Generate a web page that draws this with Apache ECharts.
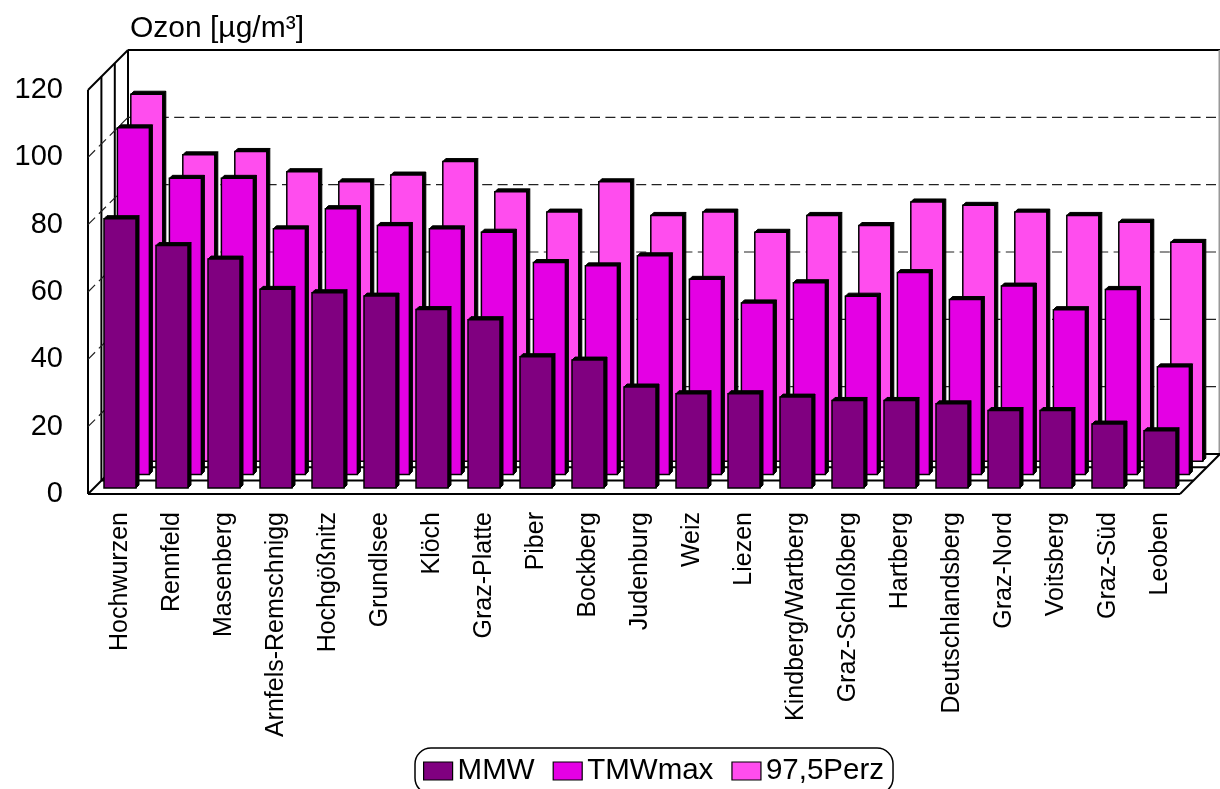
<!DOCTYPE html>
<html><head><meta charset="utf-8">
<style>html,body{margin:0;padding:0;background:#fff}#c{width:1220px;height:789px}</style>
<script src="https://cdn.jsdelivr.net/npm/echarts@6/dist/echarts.min.js"></script>
</head><body><div id="c"></div>
<script>
const categories = ["Hochwurzen","Rennfeld","Masenberg","Arnfels-Remschnigg","Hochgößnitz","Grundlsee","Klöch","Graz-Platte","Piber","Bockberg","Judenburg","Weiz","Liezen","Kindberg/Wartberg","Graz-Schloßberg","Hartberg","Deutschlandsberg","Graz-Nord","Voitsberg","Graz-Süd","Leoben"];
const mmw    = [80,72,68,59,58,57,53,50,39,38,30,28,28,27,26,26,25,23,23,19,17];
const tmwmax = [103,88,88,73,79,74,73,72,63,62,65,58,51,57,53,60,52,56,49,55,32];
const perz   = [109,91,92,86,83,85,89,80,74,83,73,74,68,73,70,77,76,74,73,71,65];
const yTicks = [0,20,40,60,80,100,120];

const DEPTH = 40, ROW = 13.4, FRONT = 6, BAR_DEPTH = 3, BAR_W = 32;
const line = (x1,y1,x2,y2,extra={}) => ({type:'line',shape:{x1,y1,x2,y2},style:Object.assign({stroke:'#000',lineWidth:2,fill:null},extra)});

function frameItem(p, api){
  const [x0,y0] = api.coord([0,0]);
  const gx = p.coordSys.x - 6, rx = p.coordSys.x + p.coordSys.width - 6;
  const ty = api.coord([0,120])[1];
  const ch = [];
  ch.push(line(gx+DEPTH,ty-DEPTH,rx+DEPTH,ty-DEPTH));
  ch.push(line(gx+DEPTH,ty-DEPTH,gx+DEPTH,y0-DEPTH));
  ch.push(line(rx+DEPTH-0.5,ty-DEPTH,rx+DEPTH-0.5,y0-DEPTH,{stroke:'#999'}));
  ch.push(line(gx,ty,gx+DEPTH,ty-DEPTH));
  ch.push(line(gx,ty,gx,y0));
  [1,2].forEach(k=>{
    const d=ROW*k;
    ch.push(line(gx+d,ty-d,gx+d,y0-d));
    ch.push(line(gx+d,y0-d,rx+d,y0-d));
  });
  ch.push(line(gx+DEPTH,y0-DEPTH,rx+DEPTH,y0-DEPTH));
  ch.push(line(gx,y0,rx,y0));
  ch.push(line(gx,y0,gx+DEPTH,y0-DEPTH));
  ch.push(line(rx,y0,rx+DEPTH,y0-DEPTH));
  return {type:'group',children:ch};
}
function gridItem(p, api){
  const v = api.value(0);
  if (v===0||v===120) return {type:'group',children:[]};
  const y = api.coord([0,v])[1];
  const gx = p.coordSys.x - 6, rx = p.coordSys.x + p.coordSys.width - 6;
  const st = {lineDash:[10,5.4],lineWidth:1.2,stroke:'#222'};
  return {type:'group',children:[
    line(gx,y,gx+DEPTH,y-DEPTH,st),
    line(gx+DEPTH,y-DEPTH,rx+DEPTH,y-DEPTH,st)
  ]};
}
function barItem(row, color){
  return (p, api) => {
    const c = api.coord([api.value(0), api.value(1)]);
    const base = api.coord([api.value(0), 0])[1];
    const off = FRONT + ROW*row;
    const x = c[0] - BAR_W/2 + ROW*row;
    const top = c[1] - off, bot = base - off;
    const d = BAR_DEPTH;
    const poly = pts => ({type:'polygon',shape:{points:pts},style:{fill:'#000',stroke:'#000',lineWidth:1}});
    return {type:'group',children:[
      poly([[x,top],[x+d,top-d],[x+BAR_W+d,top-d],[x+BAR_W,top]]),
      poly([[x+BAR_W,top],[x+BAR_W+d,top-d],[x+BAR_W+d,bot-d],[x+BAR_W,bot]]),
      {type:'rect',shape:{x,y:top,width:BAR_W,height:bot-top},style:{fill:color,stroke:'#000',lineWidth:1.5}}
    ]};
  };
}
const pts = arr => arr.map((v,i)=>[i,v]);
const chart = echarts.init(document.getElementById('c'),null,{renderer:'canvas'});
const font = 'Liberation Sans';
chart.setOption({
  animation:false,
  backgroundColor:'#fff',
  title:{text:'Ozon [µg/m³]',left:130,top:14,padding:0,textStyle:{fontFamily:font,fontSize:30,fontWeight:'normal',color:'#000'}},
  grid:{left:94,right:34,top:90,bottom:295,containLabel:false},
  legend:{left:415,top:748,padding:[8,9,8,8],itemWidth:29,itemHeight:18,itemGap:18,borderColor:'#000',borderWidth:1.5,borderRadius:16,
    selectedMode:false,icon:'rect',data:['MMW','TMWmax','97,5Perz'],
    itemStyle:{borderColor:'#000',borderWidth:1.2},
    textStyle:{fontFamily:font,fontSize:29.5,color:'#000'}},
  xAxis:{type:'category',data:categories,axisLine:{show:false},axisTick:{show:false},splitLine:{show:false},
    axisLabel:{interval:0,rotate:90,margin:18,fontFamily:font,fontSize:25,color:'#000'}},
  yAxis:{type:'value',min:0,max:120,interval:20,axisLine:{show:false},axisTick:{show:false},splitLine:{show:false},
    axisLabel:{margin:31,fontFamily:font,fontSize:29,color:'#000',padding:[0,0,6,0]}},
  series:[
    {type:'custom',name:'frame',silent:true,z:1,data:[[0,0]],renderItem:frameItem},
    {type:'custom',name:'grid',silent:true,z:1,data:yTicks.map(v=>[v]),encode:{y:0},renderItem:gridItem},
    {type:'custom',name:'97,5Perz',z:2,itemStyle:{color:'#FF4DEE'},data:pts(perz),encode:{x:0,y:1},renderItem:barItem(2,'#FF4DEE')},
    {type:'custom',name:'TMWmax',z:3,itemStyle:{color:'#E400E4'},data:pts(tmwmax),encode:{x:0,y:1},renderItem:barItem(1,'#E400E4')},
    {type:'custom',name:'MMW',z:4,itemStyle:{color:'#800080'},data:pts(mmw),encode:{x:0,y:1},renderItem:barItem(0,'#800080')}
  ]
});
</script></body></html>
